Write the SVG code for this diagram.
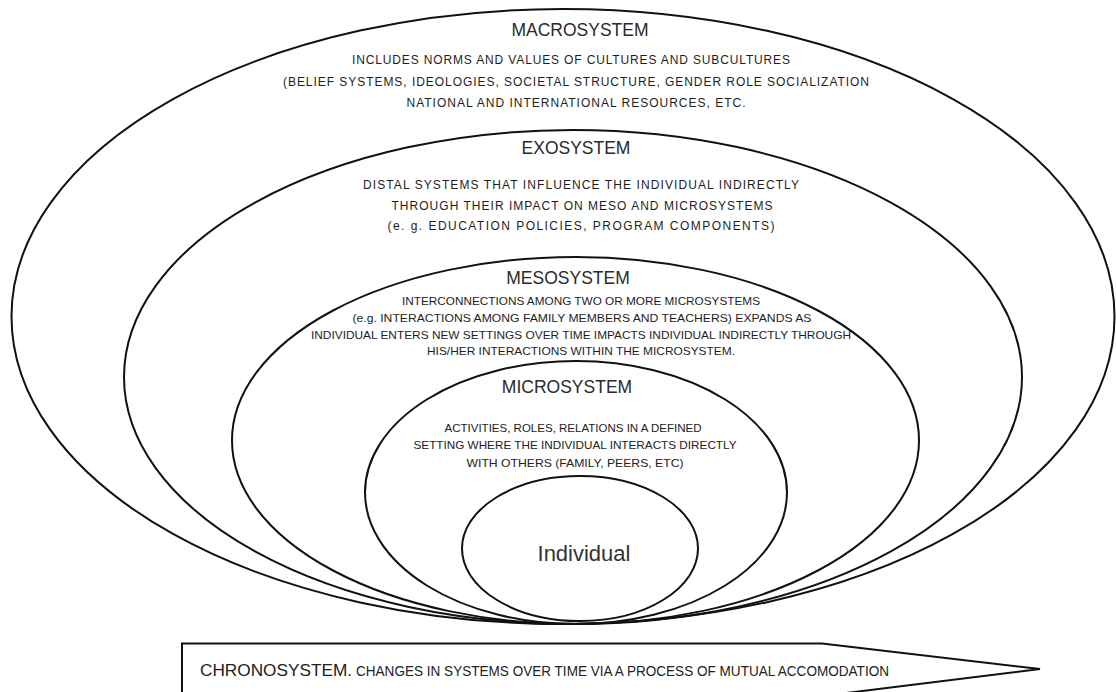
<svg xmlns="http://www.w3.org/2000/svg" width="1116" height="692" viewBox="0 0 1116 692">
  <style>
    .ring { fill: none; stroke: #111; stroke-width: 2; }
    .title { font-family: "Liberation Sans", Arial, sans-serif; font-size: 17.5px; fill: #2a2a2a; text-anchor: middle; }
    .body { font-family: "Liberation Sans", Arial, sans-serif; font-size: 12px; fill: #1e1e1e; text-anchor: middle; }
    .small { font-family: "Liberation Sans", Arial, sans-serif; font-size: 11px; fill: #1e1e1e; text-anchor: middle; }
    .micro { font-family: "Liberation Sans", Arial, sans-serif; font-size: 11.5px; fill: #222; text-anchor: middle; }
    .indiv { font-family: "Liberation Sans", Arial, sans-serif; font-size: 22px; fill: #333; text-anchor: middle; }
    .chrono-head { font-family: "Liberation Sans", Arial, sans-serif; font-size: 16.5px; fill: #222; }
    .chrono-body { font-family: "Liberation Sans", Arial, sans-serif; font-size: 14px; fill: #222; }
  </style>
  <rect x="0" y="0" width="1116" height="692" fill="#fff"/>

  <!-- nested system rings, all touching near the bottom -->
  <g id="macrosystem">
    <ellipse class="ring" cx="563" cy="316.5" rx="551.5" ry="307.5"/>
    <text class="title" x="580" y="36">MACROSYSTEM</text>
    <text class="body" x="571" y="64" textLength="438" lengthAdjust="spacing">INCLUDES NORMS AND VALUES OF CULTURES AND SUBCULTURES</text>
    <text class="body" x="576" y="86" textLength="586" lengthAdjust="spacing">(BELIEF SYSTEMS, IDEOLOGIES, SOCIETAL STRUCTURE, GENDER ROLE SOCIALIZATION</text>
    <text class="body" x="576" y="107" textLength="339" lengthAdjust="spacing">NATIONAL AND INTERNATIONAL RESOURCES, ETC.</text>
  </g>

  <g id="exosystem">
    <ellipse class="ring" cx="573" cy="377" rx="449" ry="247"/>
    <text class="title" x="576" y="154">EXOSYSTEM</text>
    <text class="body" x="581" y="189" textLength="436" lengthAdjust="spacing">DISTAL SYSTEMS THAT INFLUENCE THE INDIVIDUAL INDIRECTLY</text>
    <text class="body" x="582" y="210" textLength="381" lengthAdjust="spacing">THROUGH THEIR IMPACT ON MESO AND MICROSYSTEMS</text>
    <text class="body" x="581" y="230" textLength="387" lengthAdjust="spacing">(e. g. EDUCATION POLICIES, PROGRAM COMPONENTS)</text>
  </g>

  <g id="mesosystem">
    <ellipse class="ring" cx="575.5" cy="440.5" rx="343.5" ry="183.5"/>
    <text class="title" x="568" y="284">MESOSYSTEM</text>
    <text class="small" x="581" y="305" textLength="358" lengthAdjust="spacingAndGlyphs">INTERCONNECTIONS AMONG TWO OR MORE MICROSYSTEMS</text>
    <text class="small" x="582" y="322" textLength="459" lengthAdjust="spacingAndGlyphs">(e.g. INTERACTIONS AMONG FAMILY MEMBERS AND  TEACHERS) EXPANDS  AS</text>
    <text class="small" x="581" y="339" textLength="540" lengthAdjust="spacingAndGlyphs">INDIVIDUAL ENTERS NEW SETTINGS OVER TIME IMPACTS INDIVIDUAL INDIRECTLY THROUGH</text>
    <text class="small" x="581" y="355" textLength="308" lengthAdjust="spacingAndGlyphs">HIS/HER INTERACTIONS WITHIN THE MICROSYSTEM.</text>
  </g>

  <g id="microsystem">
    <ellipse class="ring" cx="576" cy="492.5" rx="211" ry="131.5"/>
    <text class="title" x="567" y="393">MICROSYSTEM</text>
    <text class="micro" x="573" y="432" textLength="257" lengthAdjust="spacingAndGlyphs">ACTIVITIES, ROLES, RELATIONS IN A DEFINED</text>
    <text class="micro" x="575" y="449" textLength="323" lengthAdjust="spacingAndGlyphs">SETTING WHERE THE INDIVIDUAL INTERACTS DIRECTLY</text>
    <text class="micro" x="575" y="467" textLength="217" lengthAdjust="spacingAndGlyphs">WITH OTHERS (FAMILY, PEERS, ETC)</text>
  </g>

  <g id="individual">
    <ellipse class="ring" cx="580" cy="548.5" rx="118" ry="72.5"/>
    <text class="indiv" x="584" y="561">Individual</text>
  </g>

  <!-- time arrow along the bottom edge -->
  <g id="chronosystem">
    <path class="ring" d="M182,696 L182,643.5 L822,643.5 L1040,669 L822,696"/>
    <text class="chrono-head" x="200" y="676" textLength="152" lengthAdjust="spacingAndGlyphs">CHRONOSYSTEM.</text>
    <text class="chrono-body" x="356" y="676" textLength="533" lengthAdjust="spacingAndGlyphs">CHANGES IN SYSTEMS OVER TIME VIA A PROCESS OF MUTUAL ACCOMODATION</text>
  </g>
</svg>
